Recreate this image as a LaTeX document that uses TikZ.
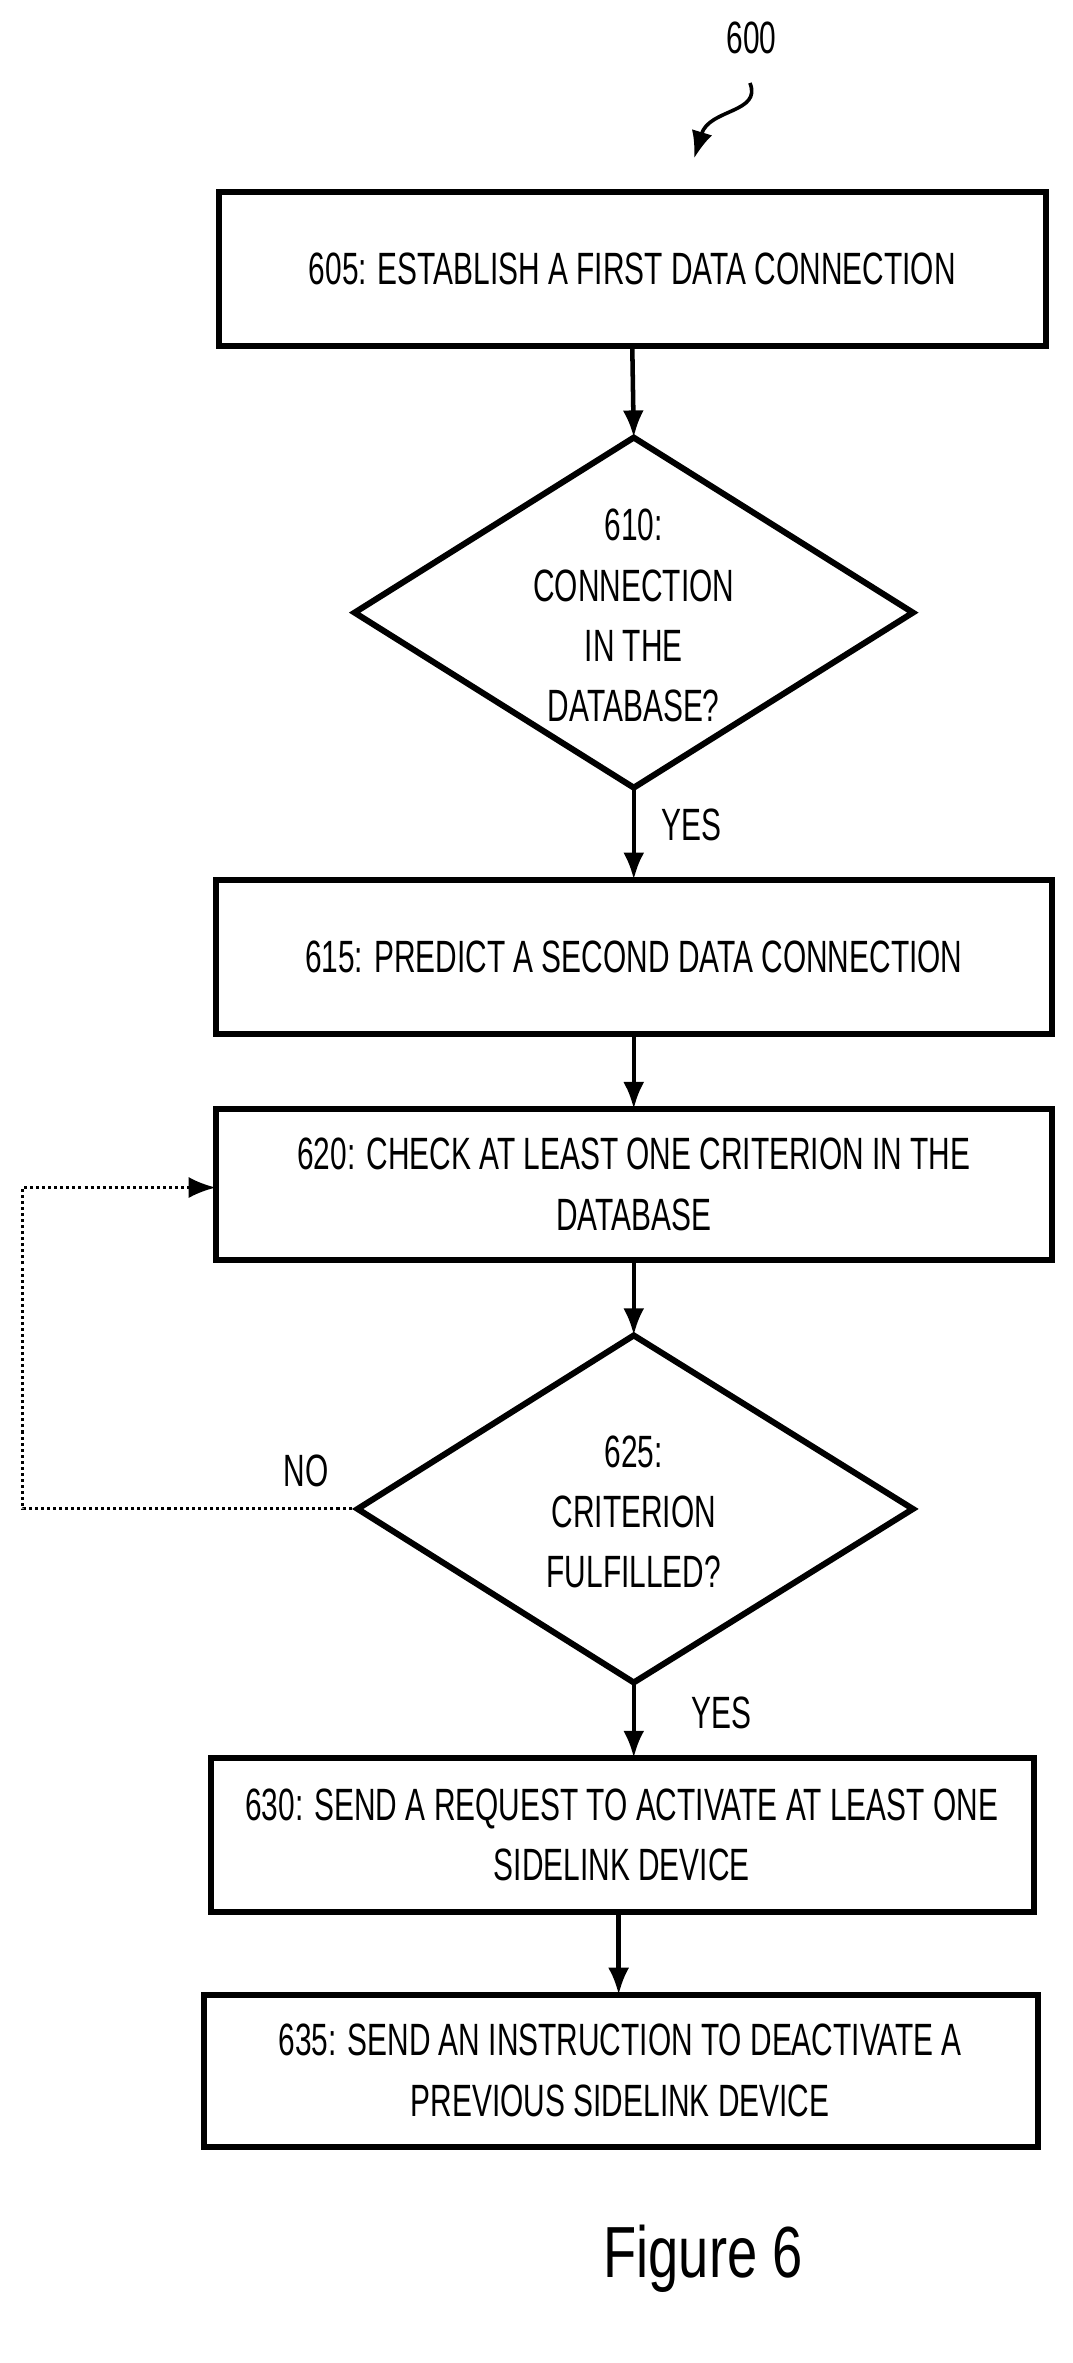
\documentclass[tikz,border=0pt]{standalone}
\usepackage{fontspec}
\setmainfont{Liberation Sans}
\usetikzlibrary{shapes.geometric,arrows.meta}
\newcommand{\nt}[1]{\scalebox{0.66}[1]{#1}}
\begin{document}
\begin{tikzpicture}[x=0.5pt,y=-0.5pt,
  txt/.style={font=\fontsize{15}{20}\selectfont,align=center},
  arr/.style={line width=1.5pt,-{Latex[length=9pt,width=7pt]}}]
\useasboundingbox (0,0) rectangle (711,1566);
\tikzset{bx/.style={draw,line width=2pt}}
\draw[bx] (145,127) rectangle (693,229);
\coordinate (b605n) at (419,127); \coordinate (b605s) at (419,229);
\node[txt] (b605) at (419,178) {\nt{605: ESTABLISH A FIRST DATA CONNECTION}};
\coordinate (d1t) at (420,290); \coordinate (d1b) at (420,522);
\coordinate (d1l) at (235,406); \coordinate (d1r) at (605,406);
\draw[line width=2pt] (d1t)--(d1r)--(d1b)--(d1l)--cycle;
\node[txt] (d610) at (420,408) {\nt{610:}\\\nt{CONNECTION}\\\nt{IN THE}\\\nt{DATABASE?}};
\draw[bx] (143,583) rectangle (697,685);
\coordinate (b615n) at (420,583); \coordinate (b615s) at (420,685);
\node[txt] (b615) at (420,634) {\nt{615: PREDICT A SECOND DATA CONNECTION}};
\draw[bx] (143,735) rectangle (697,835);
\coordinate (b620n) at (420,735); \coordinate (b620s) at (420,835); \coordinate (b620w) at (143,787);
\node[txt] (b620) at (420,785) {\nt{620: CHECK AT LEAST ONE CRITERION IN THE}\\\nt{DATABASE}};
\coordinate (d2t) at (420,885); \coordinate (d2b) at (420,1115);
\coordinate (d2l) at (237,1000); \coordinate (d2r) at (605,1000);
\draw[line width=2pt] (d2t)--(d2r)--(d2b)--(d2l)--cycle;
\node[txt] (d625) at (420,1002) {\nt{625:}\\\nt{CRITERION}\\\nt{FULFILLED?}};
\draw[bx] (140,1165) rectangle (685,1267);
\coordinate (b630s) at (410,1267);
\node[txt] (b630) at (412,1216) {\nt{630: SEND A REQUEST TO ACTIVATE AT LEAST ONE}\\\nt{SIDELINK DEVICE}};
\draw[bx] (135,1322) rectangle (688,1423);
\coordinate (b635n) at (410,1322);
\node[txt] (b635) at (411,1372) {\nt{635: SEND AN INSTRUCTION TO DEACTIVATE A}\\\nt{PREVIOUS SIDELINK DEVICE}};
\draw[arr] (b605s) -- (d1t);
\draw[arr] (d1b) -- (b615n);
\node[txt] (y1) at (458,547) {\nt{YES}};
\draw[arr] (b615s) -- (b620n);
\draw[arr] (b620s) -- (d2t);
\coordinate (b630n) at (420,1165);
\draw[arr] (d2b) -- (b630n);
\node[txt] (y2) at (478,1135) {\nt{YES}};
\draw[arr] (b630s) -- (b635n);
\coordinate (l1) at (15,1000); \coordinate (l2) at (15,787);
\draw[arr,line width=1pt,densely dotted] (d2l) -- (l1) -- (l2) -- (b620w);
\node[txt] (no) at (203,975) {\nt{NO}};
\node[txt] (n600) at (498,25) {\nt{600}};
\coordinate (a1) at (497,55); \coordinate (a2) at (460,105);
\draw[arr,line width=1.2pt] (a1) .. controls (505,75) and (470,72) .. (a2);
\node[font=\fontsize{24}{28}\selectfont] (fig) at (466,1497) {\scalebox{0.75}[1]{Figure 6}};
\end{tikzpicture}
\end{document}
